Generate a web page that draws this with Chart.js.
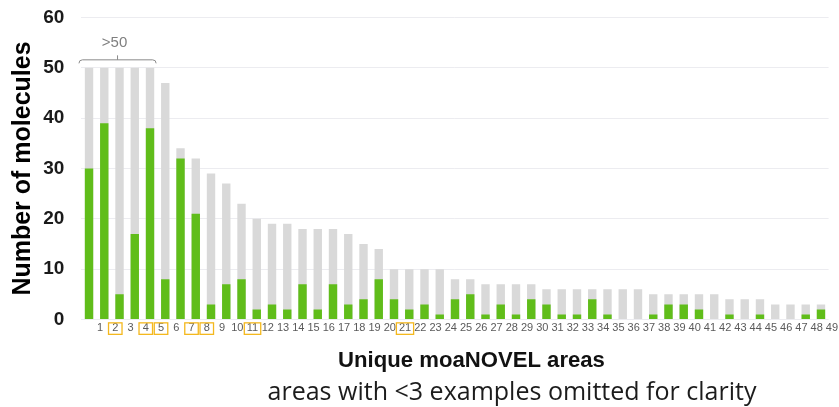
<!DOCTYPE html>
<html><head><meta charset="utf-8">
<script src="https://cdn.jsdelivr.net/npm/chart.js@4.4.1/dist/chart.umd.min.js"></script>
<style>html,body{margin:0;padding:0;background:#fff}#wrap{width:839px;height:407px;position:relative}</style>
</head><body><div id="wrap"><canvas id="c"></canvas></div>
<script>
const areaLabels = ['1','2','3','4','5','6','7','8','9','10','11','12','13','14','15','16','17','18','19','20','21','22','23','24','25','26','27','28','29','30','31','32','33','34','35','36','37','38','39','40','41','42','43','44','45','46','47','48','49'];
const totalMolecules = [50,50,50,50,50,47,34,32,29,27,23,20,19,19,18,18,18,17,15,14,10,10,10,10,8,8,7,7,7,7,6,6,6,6,6,6,6,5,5,5,5,5,4,4,4,3,3,3,3];
const novelMolecules = [30,39,5,17,38,8,32,21,3,7,8,2,3,2,7,2,7,3,4,8,4,2,3,1,4,5,1,3,1,4,3,1,1,4,1,0,0,1,3,3,2,0,1,0,1,0,0,1,2];
const highlightedAreas = ['2','4','5','7','8','11','21'];
const yMin = 0, yMax = 60, yStep = 10;
const yTitle = 'Number of molecules';
const xTitle = 'Unique moaNOVEL areas';
const xSubtitle = 'areas with <3 examples omitted for clarity';
const bracketLabel = '>50';
const bracketFirst = 0, bracketLast = 4;

const GREEN = 'rgb(96,189,26)';
const GREY = 'rgb(217,217,217)';
const TICK_FONT = {family: "'Liberation Sans', Arial, sans-serif", size: 11};
const X_LABEL_OFFSET = 11, X_TICK_PAD = 2;

function fitFont(ctx, text, weight, family, targetW) {
  ctx.font = weight + ' 100px ' + family;
  const w = ctx.measureText(text).width;
  return weight + ' ' + (100 * targetW / w).toFixed(2) + 'px ' + family;
}

const overlay = {
  id: 'overlay',
  afterDraw(chart) {
    const {ctx} = chart;
    const xs = chart.scales.x, ys = chart.scales.y;
    ctx.save();
    // highlighted tick boxes
    ctx.font = TICK_FONT.size + 'px ' + TICK_FONT.family;
    ctx.strokeStyle = 'rgb(244,184,30)';
    ctx.lineWidth = 1.3;
    const cy = xs.top + X_TICK_PAD + TICK_FONT.size * 1.2 / 2 + 0.5;
    areaLabels.forEach((lab, i) => {
      if (!highlightedAreas.includes(lab)) return;
      const cx = xs.getPixelForTick(i) + X_LABEL_OFFSET;
      const w = Math.max(ctx.measureText(lab).width + 5, 13.5);
      const h = 11.5;
      ctx.strokeRect(cx - w / 2, cy - h / 2, w, h);
    });
    // bracket over the capped areas
    const cat = xs.getPixelForValue(1) - xs.getPixelForValue(0);
    const bl = xs.getPixelForValue(bracketFirst) - cat * 0.66;
    const br = xs.getPixelForValue(bracketLast) + cat * 0.4;
    const by = ys.getPixelForValue(50) - 8;
    const r = 3.5;
    ctx.strokeStyle = '#8a8a8a';
    ctx.lineWidth = 1;
    ctx.beginPath();
    ctx.moveTo(bl, by + r);
    ctx.quadraticCurveTo(bl, by, bl + r, by);
    ctx.lineTo(br - r, by);
    ctx.quadraticCurveTo(br, by, br, by + r);
    const mid = (bl + br) / 2;
    ctx.moveTo(mid, by);
    ctx.lineTo(mid, by - 4.5);
    ctx.stroke();
    ctx.fillStyle = '#7f7f7f';
    ctx.font = "15px 'Liberation Sans', Arial, sans-serif";
    ctx.textAlign = 'center';
    ctx.textBaseline = 'alphabetic';
    ctx.fillText(bracketLabel, mid - 3, by - 13);
    // axis title and note
    ctx.fillStyle = '#111';
    ctx.font = fitFont(ctx, xTitle, 'bold', "'Liberation Sans', Arial, sans-serif", 267);
    ctx.fillText(xTitle, 471.5, 367);
    ctx.fillStyle = '#1c1c1c';
    ctx.font = fitFont(ctx, xSubtitle, 'normal', "'Open Sans', sans-serif", 489);
    ctx.fillText(xSubtitle, 512, 400);
    ctx.restore();
  }
};

new Chart(document.getElementById('c'), {
  type: 'bar',
  data: {
    labels: areaLabels,
    datasets: [
      {label: 'novel', data: novelMolecules, backgroundColor: GREEN, borderWidth: 0, barPercentage: 0.55, categoryPercentage: 1},
      {label: 'total', data: totalMolecules, backgroundColor: GREY, borderWidth: 0, barPercentage: 0.55, categoryPercentage: 1}
    ]
  },
  options: {
    responsive: true,
    maintainAspectRatio: false,
    animation: false,
    layout: {padding: {left: 0, right: 10.4, top: 17.5, bottom: 70.3}},
    plugins: {legend: {display: false}, tooltip: {enabled: false}, title: {display: false}},
    scales: {
      x: {
        stacked: true,
        grid: {display: false, drawTicks: false},
        border: {display: false},
        ticks: {autoSkip: false, maxRotation: 0, minRotation: 0, labelOffset: X_LABEL_OFFSET, padding: X_TICK_PAD, color: '#5a5a5a', font: TICK_FONT}
      },
      y: {
        stacked: false,
        min: yMin, max: yMax,
        grid: {color: '#ececf0', drawTicks: true, tickLength: 17, tickColor: 'rgba(0,0,0,0)', lineWidth: 1},
        border: {display: false},
        ticks: {stepSize: yStep, padding: 0, color: '#1a1a1a', font: {family: "'Liberation Sans', Arial, sans-serif", size: 19, weight: 'bold'}},
        title: {display: true, text: yTitle, color: '#000', font: {family: "'Liberation Sans', Arial, sans-serif", size: 25, weight: 'bold'}, padding: {top: 8, bottom: 0}},
        afterFit(s) { s.width = 81.4; }
      }
    }
  },
  plugins: [overlay]
});
</script>
</body></html>
